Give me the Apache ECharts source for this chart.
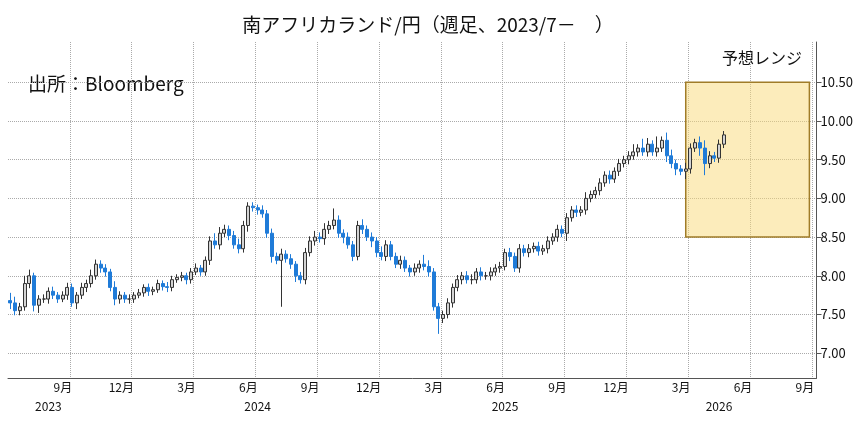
<!DOCTYPE html>
<html><head><meta charset="utf-8">
<script src="https://cdn.jsdelivr.net/npm/echarts@6/dist/echarts.min.js"></script>
<style>html,body{margin:0;background:#fff}#c{width:856px;height:423px}</style>
</head><body><div id="c"></div>
<script>
// 週足終値（2023/7/7週〜）
const closes = [
  7.65,7.55,7.60,7.90,8.00,7.62,7.70,7.70,7.80,7.75,
  7.70,7.75,7.85,7.65,7.75,7.85,7.90,8.00,8.15,8.10,
  8.05,7.85,7.70,7.75,7.70,7.70,7.75,7.78,7.85,7.80,
  7.82,7.90,7.86,7.85,7.95,7.98,8.00,7.95,8.05,8.10,8.05,
  8.20,8.45,8.40,8.55,8.60,8.52,8.40,8.35,8.65,8.90,
  8.88,8.85,8.80,8.55,8.25,8.20,8.28,8.22,8.15,8.00,
  7.95,8.30,8.45,8.50,8.48,8.60,8.65,8.72,8.55,8.50,
  8.40,8.25,8.65,8.60,8.50,8.45,8.30,8.25,8.40,8.25,
  8.15,8.20,8.10,8.05,8.10,8.15,8.12,8.05,7.60,7.45,
  7.50,7.65,7.85,7.95,8.00,7.95,7.95,8.05,8.00,8.00,8.05,
  8.10,8.12,8.30,8.25,8.10,8.35,8.30,8.35,8.38,8.32,
  8.35,8.45,8.50,8.60,8.55,8.75,8.85,8.82,8.85,9.00,9.05,
  9.10,9.20,9.30,9.25,9.35,9.45,9.50,9.55,9.60,9.65,
  9.60,9.70,9.60,9.65,9.75,9.55,9.45,9.38,9.35,9.38,
  9.65,9.72,9.65,9.45,9.55,9.52,9.70,9.82
]
const firstOpen = 7.68
// 上ヒゲ・下ヒゲ（値幅）
const upWick = [
  .10,.08,.05,.10,.08,.04,.05,.06,.05,.06, .04,.05,.06,.05,.04,.06,.05,.08,.06,.05,
  .05,.04,.08,.05,.04,.06,.04,.05,.04,.05, .04,.05,.04,.06,.05,.04,.05,.04,.05,.06,.04,
  .05,.06,.10,.08,.06,.05,.06,.08,.06,.05, .05,.04,.06,.05,.06,.05,.07,.05,.06,.04,
  .05,.06,.06,.08,.06,.08,.06,.15,.06,.05, .06,.05,.06,.08,.05,.06,.05,.08,.06,.05,
  .05,.06,.05,.04,.06,.05,.12,.08,.05,.05, .05,.06,.05,.06,.05,.06,.07,.05,.06,.05,.06,
  .05,.06,.05,.06,.05,.06,.05,.06,.05,.06, .05,.06,.05,.06,.05,.06,.05,.06,.05,.08,.05,
  .05,.06,.05,.06,.05,.06,.05,.06,.10,.05, .12,.08,.05,.15,.05,.10,.08,.05,.05,.08,
  .06,.05,.08,.10,.06,.05,.06,.05
]
const downWick = [
  .08,.06,.06,.05,.06,.08,.10,.05,.06,.05, .05,.04,.06,.05,.08,.05,.06,.05,.05,.06,
  .06,.05,.08,.06,.05,.06,.05,.04,.05,.06, .05,.04,.05,.06,.05,.04,.05,.06,.05,.04,.05,
  .05,.06,.05,.06,.05,.06,.05,.06,.05,.08, .05,.06,.05,.06,.08,.05,.60,.05,.06,.08,
  .05,.06,.05,.06,.05,.08,.06,.05,.06,.08, .05,.06,.05,.06,.05,.08,.06,.05,.06,.05,
  .05,.06,.05,.06,.05,.06,.05,.06,.05,.20, .06,.05,.06,.05,.06,.05,.06,.05,.06,.05,.06,
  .05,.06,.05,.06,.05,.06,.05,.06,.05,.06, .05,.06,.05,.06,.05,.10,.05,.06,.05,.06,.05,
  .05,.06,.05,.06,.05,.06,.05,.06,.05,.06, .05,.06,.05,.06,.05,.08,.06,.08,.05,.10,
  .06,.05,.10,.15,.06,.05,.06,.05
]
const yTicks = [7.0,7.5,8.0,8.5,9.0,9.5,10.0,10.5]
const rangeLow = 8.5, rangeHigh = 10.5, lastPrice = 9.82

// 週のカテゴリー（金曜日）
const weeks = []
for (let t = new Date(2023, 6, 7); t < new Date(2026, 9, 5); t.setDate(t.getDate() + 7)) {
  weeks.push(new Date(t))
}
const cats = weeks.map(d => d.getFullYear() + '-' + (d.getMonth() + 1) + '-' + d.getDate())

const ohlc = weeks.map((d, i) => {
  if (i >= closes.length) return '-'
  const o = i === 0 ? firstOpen : closes[i - 1]
  const c = closes[i]
  return [o, c, Math.min(o, c) - downWick[i], Math.max(o, c) + upWick[i]]
})

const isQuarter = i => {
  const d = weeks[i]
  return i > 0 && d.getDate() <= 7 && d.getMonth() % 3 === 0
}
const isYear = i => i > 0 && weeks[i].getDate() <= 7 && weeks[i].getMonth() === 0
const yearLabelAt = ['2023-9-1', '2024-7-5', '2025-7-4', '2026-5-15']
const startBox = weeks.findIndex(d => d >= new Date(2026, 2, 27))

const chart = echarts.init(document.getElementById('c'))
chart.setOption({
  animation: false,
  textStyle: { fontFamily: 'Noto Sans CJK JP' },
  title: {
    text: '南アフリカランド/円（週足、2023/7－　）', left: 'center', top: 10,
    textStyle: { fontSize: 19, fontWeight: 'normal', color: '#111' }
  },
  graphic: [
    { type: 'text', left: 28, top: 74, style: { text: '出所：Bloomberg', fontSize: 19, fill: '#111', fontFamily: 'Noto Sans CJK JP' } },
    { type: 'text', left: 722, top: 50, style: { text: '予想レンジ', fontSize: 16, fill: '#111', fontFamily: 'Noto Sans CJK JP' } }
  ],
  grid: { left: 8, right: 33, top: 42, bottom: 45 },
  xAxis: [{
    type: 'category', data: cats, boundaryGap: true,
    axisLine: { lineStyle: { color: '#555' } },
    axisTick: { interval: isQuarter, length: 6, lineStyle: { color: '#555' } },
    splitLine: { show: true, interval: isQuarter, lineStyle: { type: 'dotted', color: '#aaa' } },
    axisLabel: {
      interval: isQuarter, align: 'right', margin: 3, fontSize: 12, color: '#111',
      formatter: (v, i) => { const m = weeks[i].getMonth(); return (m === 0 ? 12 : m) + '月' }
    }
  }, {
    type: 'category', data: cats, position: 'bottom', boundaryGap: true,
    axisLine: { show: false },
    axisTick: { interval: isYear, length: 40, lineStyle: { color: '#bbb' } },
    axisLabel: {
      interval: i => yearLabelAt.includes(cats[i]), margin: 22, fontSize: 12, color: '#111',
      formatter: (v, i) => String(weeks[i].getFullYear())
    }
  }],
  yAxis: {
    type: 'value', position: 'right', min: 6.68, max: 11.02, scale: true,
    axisLine: { show: true, lineStyle: { color: '#555' } },
    axisTick: { show: true, customValues: yTicks, lineStyle: { color: '#555' } },
    axisLabel: { customValues: yTicks, formatter: v => v.toFixed(2), fontSize: 13, color: '#111', margin: 4 },
    splitLine: { show: true, lineStyle: { type: 'dotted', color: '#aaa' } }
  },
  series: [{
    type: 'candlestick', data: ohlc, barWidth: 3.5,
    itemStyle: { color: '#d4d4d4', color0: '#1f7bd8', borderColor: '#333', borderColor0: '#1f7bd8', borderWidth: 1 },
    markLine: {
      symbol: 'none', silent: true, data: [{ yAxis: lastPrice }],
      lineStyle: { opacity: 0 },
      label: { position: 'end', formatter: '9.82', color: '#fff', backgroundColor: '#111', padding: [2, 4], fontSize: 13, distance: 2 }
    }
  }, {
    type: 'candlestick', data: [], z: 5,
    markArea: {
      silent: true,
      itemStyle: { color: 'rgba(250,218,120,0.5)', borderColor: '#a07c28', borderWidth: 1.5 },
      data: [[{ xAxis: cats[startBox], yAxis: rangeHigh }, { xAxis: cats[cats.length - 2], yAxis: rangeLow }]]
    }
  }]
})
</script></body></html>
